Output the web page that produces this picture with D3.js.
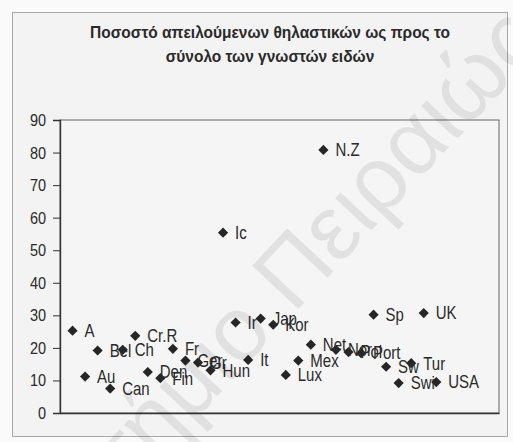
<!DOCTYPE html>
<html>
<head>
<meta charset="utf-8">
<script src="https://cdn.jsdelivr.net/npm/d3@7"></script>
<style>
  html, body { margin: 0; padding: 0; background: #fafafa; }
  svg { display: block; font-family: "Liberation Sans", Arial, sans-serif; }
</style>
</head>
<body>
<svg id="chart" width="513" height="442"></svg>
<script>
// Threatened mammals as a share of known species, by OECD country
const countries = ["A", "Au", "Bel", "Can", "Ch", "Cr.R", "Den", "Fin", "Fr", "Ger",
  "Gr", "Hun", "Ic", "Ir", "It", "Jap", "Kor", "Lux", "Mex", "Net",
  "N.Z", "Nor", "Pol", "Port", "Sp", "Sw", "Swi", "Tur", "UK", "USA"];
const threatened = [25.3, 11.2, 19.2, 7.5, 19.4, 23.7, 12.6, 10.7, 19.7, 16.1,
  15.5, 13.1, 55.4, 27.8, 16.3, 29.0, 27.1, 11.7, 16.1, 21.0,
  80.8, 19.4, 18.7, 18.4, 30.2, 14.2, 9.2, 15.3, 30.7, 9.5];
const yTicks = [0, 10, 20, 30, 40, 50, 60, 70, 80, 90];
const titleLines = ["Ποσοστό απειλούμενων θηλαστικών ως προς το", "σύνολο των γνωστών ειδών"];

const svg = d3.select("#chart");
const plot = { left: 60, right: 499, top: 120, bottom: 413 };
const textStretch = 1.18; // labels are drawn slightly tall and narrow

// Chart frame
svg.append("rect")
  .attr("x", 12.5).attr("y", 12.5).attr("width", 495).attr("height", 424)
  .attr("fill", "#f3f3f3").attr("stroke", "#a8a8a8").attr("stroke-width", 1);

// Plot area
svg.append("rect")
  .attr("x", plot.left).attr("y", plot.top)
  .attr("width", plot.right - plot.left).attr("height", plot.bottom - plot.top)
  .attr("fill", "#f5f5f5").attr("stroke", "#666").attr("stroke-width", 1);

const x = d3.scaleLinear().domain([0, 35]).range([plot.left, plot.right]);
const y = d3.scaleLinear().domain([0, 90]).range([plot.bottom, plot.top]);

// Title
svg.append("g").selectAll("text").data(titleLines).join("text")
  .attr("transform", (d, i) => `translate(270,${38 + i * 24}) scale(1,1.08)`)
  .attr("text-anchor", "middle")
  .attr("font-size", 15.5).attr("font-weight", "bold").attr("fill", "#2a2a2a")
  .text(d => d);

// Y axis
const yAxis = svg.append("g")
  .attr("transform", `translate(${plot.left},0)`)
  .call(d3.axisLeft(y).tickValues(yTicks).tickSize(7).tickPadding(7).tickFormat(d3.format("d")));
yAxis.select(".domain").attr("stroke", "#333").attr("stroke-width", 1.4);
yAxis.selectAll(".tick line").attr("stroke", "#333");
yAxis.selectAll(".tick text").attr("font-size", 14.5).attr("fill", "#2a2a2a")
  .attr("font-family", "Liberation Sans, Arial, sans-serif")
  .attr("transform", `scale(1,${textStretch})`);

// X axis baseline
svg.append("g")
  .attr("transform", `translate(0,${plot.bottom})`)
  .call(d3.axisBottom(x).tickValues([]).tickSizeOuter(0))
  .select(".domain").attr("stroke", "#333").attr("stroke-width", 1.6);

// Points
const pts = countries.map((c, i) => ({ name: c, idx: i + 1, value: threatened[i] }));
const diamond = d3.symbol().type(d3.symbolSquare).size(52);

svg.append("g").selectAll("path").data(pts).join("path")
  .attr("d", diamond)
  .attr("transform", d => `translate(${x(d.idx)},${y(d.value)}) rotate(45)`)
  .attr("fill", "#262626");

svg.append("g").selectAll("text").data(pts).join("text")
  .attr("transform", d => `translate(${x(d.idx) + 12},${y(d.value)}) scale(1,${textStretch})`)
  .attr("dy", "0.36em")
  .attr("font-size", 15).attr("fill", "#2a2a2a")
  .text(d => d.name);

// Watermark
svg.append("text")
  .attr("transform", "translate(522,22) rotate(-47)")
  .attr("text-anchor", "end")
  .attr("dy", "0.35em")
  .attr("font-size", 92)
  .attr("fill", "#000").attr("fill-opacity", 0.08)
  .text("Πανεπιστήμιο Πειραιώς");
</script>
</body>
</html>
